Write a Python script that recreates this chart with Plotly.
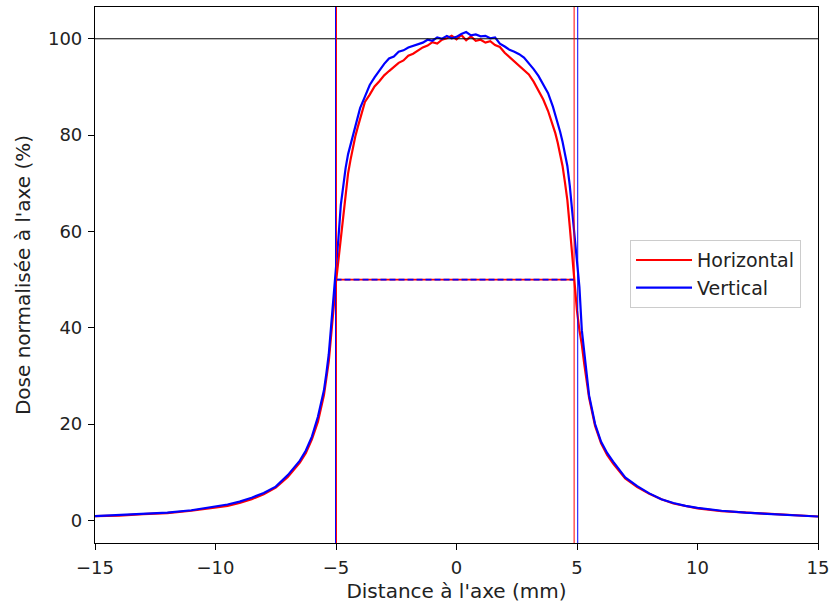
import plotly.graph_objects as go

# positions le long du profil (mm)
distance_mm = [-15, -14, -13, -12, -11, -10, -9.5, -9, -8.5, -8, -7.5, -7, -6.5, -6.25, -6, -5.75,
               -5.5, -5.4, -5.3, -5.2, -5.1, -5.0, -4.9, -4.8, -4.7, -4.6, -4.5, -4.4, -4.3, -4.2, -4.1,
               -4.0, -3.8, -3.6, -3.4, -3.2, -3.0, -2.8, -2.6, -2.4, -2.2, -2.0, -1.8, -1.6, -1.4, -1.2,
               -1.0, -0.8, -0.6, -0.4, -0.2, 0, 0.2, 0.4, 0.6, 0.8, 1.0, 1.2, 1.4, 1.6, 1.8,
               2.0, 2.2, 2.4, 2.6, 2.8, 3.0, 3.2, 3.4, 3.6, 3.8, 4.0, 4.1, 4.2, 4.3, 4.4,
               4.5, 4.6, 4.7, 4.8, 4.9, 5.0, 5.1, 5.2, 5.3, 5.4, 5.5, 5.75, 6.0, 6.25, 6.5,
               7.0, 7.5, 8, 8.5, 9, 9.5, 10, 11, 12, 13, 14, 15]

dose_horizontal = [0.9, 1.0, 1.3, 1.5, 2.0, 2.6, 3.0, 3.6, 4.4, 5.4, 6.8, 9.0, 12.0, 14.0, 16.8, 20.5,
                   26.0, 29.5, 33.0, 38.5, 44.5, 49.5, 54.0, 58.5, 63.5, 68.0, 72.0, 74.8, 77.5, 79.7, 81.6,
                   83.5, 86.9, 88.4, 90.1, 91.2, 92.4, 93.3, 94.2, 95.0, 95.5, 96.5, 96.9, 97.6, 98.2, 98.6,
                   99.3, 99.0, 99.8, 100.1, 100.6, 99.9, 100.8, 99.7, 100.5, 99.6, 99.8, 99.2, 99.5, 98.7, 98.3,
                   97.1, 96.2, 95.3, 94.6, 93.7, 92.6, 91.1, 89.2, 87.4, 85.0, 82.2, 80.4, 78.4, 76.0, 73.6,
                   70.2, 66.5, 61.0, 55.0, 49.0, 43.5, 39.5, 36.5, 32.5, 28.8, 25.5, 19.6, 16.0, 13.6, 11.8,
                   8.7, 6.9, 5.5, 4.4, 3.5, 3.0, 2.5, 1.9, 1.6, 1.3, 1.0, 0.8]

dose_vertical = [0.9, 1.1, 1.3, 1.6, 2.1, 2.8, 3.3, 3.9, 4.7, 5.7, 7.0, 9.4, 12.4, 14.5, 17.4, 21.5,
                 27.0, 30.5, 34.5, 40.5, 46.5, 51.5, 58.5, 65.5, 69.8, 73.2, 76.0, 78.0, 79.8, 81.7, 83.6,
                 85.6, 88.0, 90.4, 92.0, 93.5, 94.8, 95.9, 96.3, 97.3, 97.6, 98.2, 98.5, 98.9, 99.2, 99.8,
                 99.6, 100.3, 100.0, 100.6, 100.1, 100.4, 101.0, 101.4, 100.7, 100.9, 100.5, 100.6, 100.1, 100.3, 99.0,
                 98.4, 97.7, 97.3, 96.8, 96.1, 95.0, 93.7, 92.3, 90.6, 88.7, 85.9, 84.3, 82.5, 80.7, 78.6,
                 76.3, 73.6, 69.5, 64.5, 59.5, 54.5, 48.5, 39.5, 34.5, 29.5, 26.0, 20.0, 16.3, 14.0, 12.2,
                 8.9, 7.1, 5.6, 4.4, 3.6, 3.0, 2.6, 2.0, 1.6, 1.3, 1.0, 0.8]

# limites à 50 % (mm)
bords_horizontal = [-4.98, 4.88]
bords_vertical = [-5.02, 5.03]

fig = go.Figure()
fig.add_trace(go.Scatter(x=distance_mm, y=dose_horizontal, mode="lines", name="Horizontal",
                         line=dict(color="red", width=2.2)))
fig.add_trace(go.Scatter(x=distance_mm, y=dose_vertical, mode="lines", name="Vertical",
                         line=dict(color="blue", width=2.2)))

# ligne à 50 %
fig.add_trace(go.Scatter(x=bords_horizontal, y=[50, 50], mode="lines", showlegend=False,
                         line=dict(color="red", width=1.8)))
fig.add_trace(go.Scatter(x=[bords_vertical[0], bords_horizontal[1]], y=[50, 50], mode="lines",
                         showlegend=False, line=dict(color="blue", width=1.8, dash="6px,3px")))

shapes = [dict(type="line", xref="paper", yref="y", x0=0, x1=1, y0=100, y1=100,
               line=dict(color="black", width=1))]
for xv in bords_horizontal:
    shapes.append(dict(type="line", xref="x", yref="paper", x0=xv, x1=xv, y0=0, y1=1,
                       line=dict(color="red", width=1)))
for xv in bords_vertical:
    shapes.append(dict(type="line", xref="x", yref="paper", x0=xv, x1=xv, y0=0, y1=1,
                       line=dict(color="blue", width=1)))

axis_style = dict(showgrid=False, zeroline=False, showline=True, mirror=True, linecolor="black",
                  linewidth=1.2, ticks="outside", ticklen=6, tickcolor="black", tickwidth=1.2,
                  ticklabelstandoff=2, ticklabeloverflow="allow", automargin=False,
                  tickfont=dict(size=18, color="#222222"))

fig.update_layout(
    width=829, height=607,
    margin=dict(l=95, r=11, t=7, b=64),
    paper_bgcolor="white", plot_bgcolor="white",
    font=dict(family="DejaVu Sans", size=18, color="#222222"),
    shapes=shapes,
    xaxis=dict(range=[-15, 15], tickvals=[-15, -10, -5, 0, 5, 10, 15],
               title=dict(text="Distance à l'axe (mm)", standoff=7, font=dict(size=20)), **axis_style),
    yaxis=dict(range=[-4.7, 106.6], tickvals=[0, 20, 40, 60, 80, 100],
               title=dict(text="Dose normalisée à l'axe (%)", standoff=11, font=dict(size=20)), **axis_style),
    legend=dict(x=0.74, y=0.565, xanchor="left", yanchor="top", bgcolor="rgba(255,255,255,0.8)",
                bordercolor="#cccccc", borderwidth=1, font=dict(size=19), itemwidth=56),
)

fig.write_html("out.html", config={"displayModeBar": False},
               post_script="document.body.style.margin='0px';")
